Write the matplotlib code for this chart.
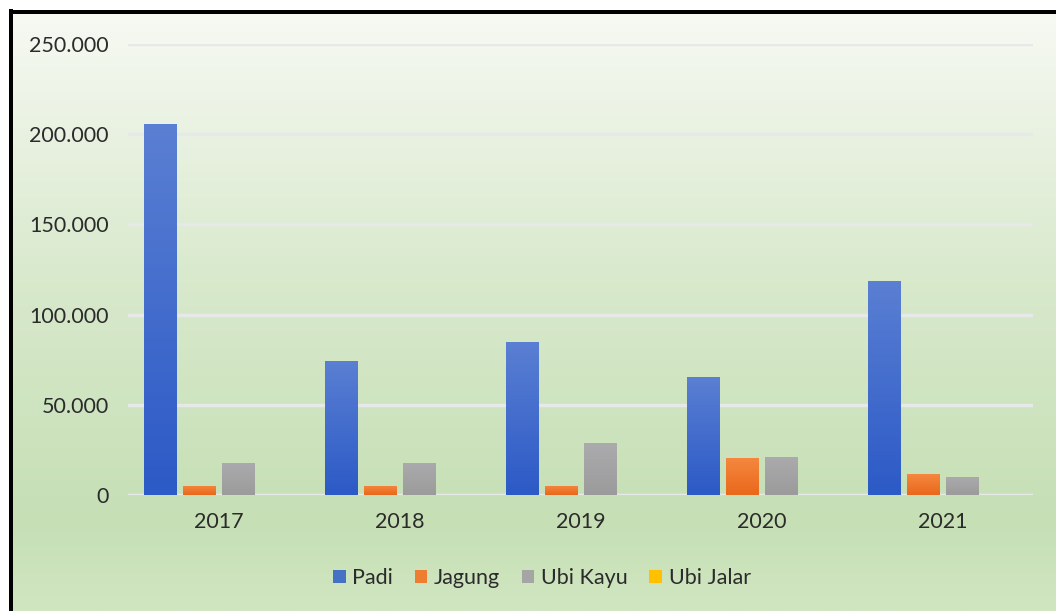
import numpy as np
import matplotlib
matplotlib.use("Agg")
import matplotlib.pyplot as plt
from matplotlib.colors import LinearSegmentedColormap
from matplotlib.patches import Rectangle
from matplotlib.ticker import FuncFormatter, MultipleLocator

plt.rcParams['font.family'] = ['Lato', 'DejaVu Sans']

years = ["2017", "2018", "2019", "2020", "2021"]
padi = [205500, 74300, 84800, 65300, 118800]
jagung = [5000, 5000, 5000, 20500, 11500]
ubi_kayu = [17800, 17800, 28700, 21200, 10000]
ubi_jalar = [0, 0, 0, 0, 0]

series_names = ["Padi", "Jagung", "Ubi Kayu", "Ubi Jalar"]
series_values = [padi, jagung, ubi_kayu, ubi_jalar]
# (top colour, bottom colour) for the vertical fill of each series
series_colors = [("#5a7fd3", "#2c5ac6"),
                 ("#f5873f", "#e9681b"),
                 ("#ababad", "#9b9b9c"),
                 ("#ffc940", "#f5b800")]
legend_colors = ["#4472c4", "#ed7d31", "#a5a5a5", "#ffc000"]

W, H = 1056, 611
fig = plt.figure(figsize=(W / 100, H / 100), dpi=100)
fig.patch.set_facecolor("white")

# chart-area background: pale at the top fading into light green
bg = fig.add_axes([13 / W, 0, 1 - 13 / W, 1 - 13 / H], zorder=-10)
bg_cmap = LinearSegmentedColormap.from_list(
    "bg", [(0.0, (247/255, 249/255, 243/255)),
           (0.45, (216/255, 233/255, 204/255)),
           (0.85, (198/255, 223/255, 181/255)),
           (1.0, (208/255, 230/255, 193/255))])
bg.imshow(np.linspace(0, 1, 256).reshape(-1, 1), aspect="auto", cmap=bg_cmap,
          extent=[0, 1, 1, 0])
bg.set_axis_off()

# black frame along the top and left edges
fig.patches.append(Rectangle((9 / W, 0), 4 / W, 1 - 9 / H, transform=fig.transFigure,
                             facecolor="black", edgecolor="none", zorder=5))
fig.patches.append(Rectangle((9 / W, 1 - 14 / H), 1, 4 / H, transform=fig.transFigure,
                             facecolor="black", edgecolor="none", zorder=5))

ax = fig.add_axes([128 / W, (H - 495) / H, 905 / W, 451 / H])
ax.set_facecolor("none")
for s in ax.spines.values():
    s.set_visible(False)

x = np.arange(len(years))
step = 0.215
width = 0.177
offsets = (np.arange(4) - 1.5) * step

legend_handles = []
for i, (name, vals) in enumerate(zip(series_names, series_values)):
    bars = ax.bar(x + offsets[i], vals, width=width, color=legend_colors[i],
                  zorder=3, linewidth=0)
    top_c, bot_c = series_colors[i]
    cmap = LinearSegmentedColormap.from_list(name, [bot_c, top_c])
    for b in bars:
        h = b.get_height()
        if h <= 0:
            continue
        bx, by = b.get_x(), b.get_y()
        im = ax.imshow(np.linspace(0, 1, 64).reshape(-1, 1), cmap=cmap,
                       aspect="auto", origin="lower",
                       extent=[bx, bx + b.get_width(), by, by + h], zorder=4)
        im.set_clip_path(b)
    legend_handles.append(Rectangle((0, 0), 1, 1, facecolor=legend_colors[i],
                                    edgecolor="none", label=name))

ax.set_xlim(-0.5, len(years) - 0.5)
ax.set_ylim(0, 250000)
ax.yaxis.set_major_locator(MultipleLocator(50000))
ax.yaxis.set_major_formatter(FuncFormatter(lambda v, p: f"{v:,.0f}".replace(",", ".")))
ax.set_xticks(x)
ax.set_xticklabels(years)
ax.tick_params(axis="both", length=0, labelsize=15.5, labelcolor="#2b2b2b")
ax.tick_params(axis="y", pad=14)
ax.tick_params(axis="x", pad=12)
ax.grid(axis="y", color="#e6e9e7", linewidth=2.5, zorder=1)
ax.set_axisbelow(True)

fig.legend(handles=legend_handles, loc="center", bbox_to_anchor=(0.513, 1 - 578 / H),
           ncol=4, frameon=False, fontsize=15.5, labelcolor="#2b2b2b",
           handlelength=0.6, handleheight=0.6, handletextpad=0.3,
           columnspacing=1.0)

fig.savefig("out.png", dpi=100)
